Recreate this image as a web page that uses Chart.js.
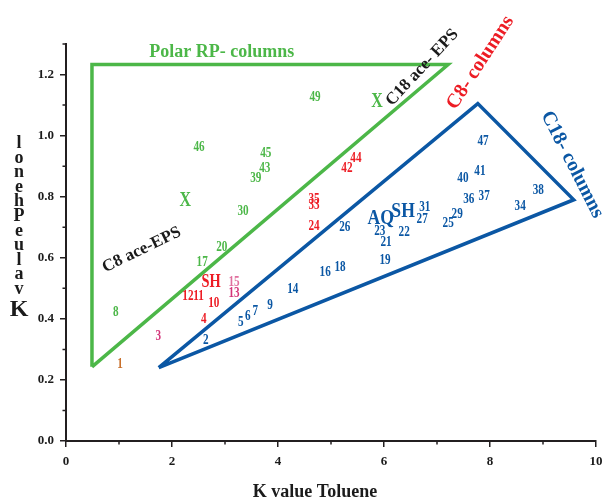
<!DOCTYPE html>
<html>
<head>
<meta charset="utf-8">
<script src="https://cdn.jsdelivr.net/npm/chart.js@4.4.1/dist/chart.umd.min.js"></script>
<style>
  html,body{margin:0;padding:0;background:#fff}
  #wrap{width:602px;height:503px}
</style>
</head>
<body>
<div id="wrap"><canvas id="chart"></canvas></div>
<script>
// retention factors: K value Toluene (x) vs K value Phenol (y), labelled by column number

// polar-embedded RP columns
const polarIds = ['8','17','20','30','39','43','45','46','49'];
const polarK   = [0.94, 2.57, 2.94, 3.34, 3.58, 3.75, 3.77, 2.51, 4.70];
const polarP   = [0.420,0.584,0.633,0.751,0.859,0.892,0.941,0.961,1.125];

// C8 columns
const c8Ids = ['4','10','12','11','24','33','35','42','44'];
const c8K   = [2.60, 2.79, 2.30, 2.50, 4.68, 4.68, 4.68, 5.30, 5.47];
const c8P   = [0.397,0.449,0.472,0.472,0.702,0.770,0.790,0.892,0.925];

const c8bIds = ['3','13'];
const c8bK   = [1.74, 3.17];
const c8bP   = [0.341,0.482];

const c8cIds = ['15'];
const c8cK   = [3.17];
const c8cP   = [0.521];

const otherIds = ['1'];
const otherK   = [1.02];
const otherP   = [0.252];

// C18 columns
const c18Ids = ['2','5','6','7','9','14','16','18','19','21','22','23','25','26','27','29','31','34','36','37','38','40','41','47'];
const c18K   = [2.64,3.30,3.43,3.57,3.85,4.28,4.89,5.17,6.02,6.04,6.38,5.92,7.21,5.26,6.72,7.38,6.77,8.57,7.60,7.89,8.91,7.49,7.81,7.87];
const c18P   = [0.328,0.390,0.407,0.423,0.443,0.498,0.551,0.570,0.593,0.649,0.682,0.685,0.711,0.698,0.725,0.741,0.764,0.767,0.790,0.800,0.820,0.859,0.882,0.980];

// phase-type markers
const polarMarkIds = ['X','X'];
const polarMarkK   = [2.25, 5.87];
const polarMarkP   = [0.787,1.111];
const c8MarkIds = ['SH'];
const c8MarkK   = [2.74];
const c8MarkP   = [0.518];
const c18MarkIds = ['AQ','SH'];
const c18MarkK   = [5.94, 6.36];
const c18MarkP   = [0.728,0.751];

// region outlines
const polarTriK = [0.49, 0.49, 7.21, 0.49];
const polarTriP = [0.243,1.233,1.233,0.243];
const c18TriK   = [1.75, 7.77, 9.58, 1.75];
const c18TriP   = [0.240,1.105,0.790,0.240];

// group captions
const noteText = ['Polar RP- columns','C8 ace-EPS','C18 ace- EPS','C8- columns','C18- columns'];
const noteK    = [2.94, 1.43, 6.72, 7.82, 9.55];
const noteP    = [1.272,0.626,1.223,1.239,0.905];

const xTicks = [0,2,4,6,8,10];
const yTicks = [0,0.2,0.4,0.6,0.8,1.0,1.2];
const yTitle = 'K value Phenol';
const xTitle = 'K value Toluene';

const COL = {green:'#4cb748', red:'#ed1c24', pink:'#d4357a', pinkL:'#e0709e',
             orange:'#c8702c', blue:'#0b57a4', ink:'#1b1b1b'};
const SERIF = '"Liberation Serif","Times New Roman",serif';

const pts = (xs, ys) => xs.map((x,i)=>({x, y:ys[i]}));
const labelSet = (ids, xs, ys, color, size) => ({
  data: pts(xs, ys), ids, textColor: color, textSize: size || 14,
  pointRadius: 0, pointHoverRadius: 0, showLine: false
});
const outline = (xs, ys, color) => ({
  data: pts(xs, ys), showLine: true, borderColor: color, borderWidth: 3.5,
  pointRadius: 0, fill: false, tension: 0, borderJoinStyle: 'miter'
});

// draws the column numbers / markers at each point position
const idLabels = {
  id: 'idLabels',
  afterDatasetsDraw(chart){
    const ctx = chart.ctx;
    chart.data.datasets.forEach((ds, i) => {
      if (!ds.ids) return;
      const meta = chart.getDatasetMeta(i);
      ctx.save();
      ctx.fillStyle = ds.textColor;
      ctx.font = 'bold ' + ds.textSize + 'px ' + SERIF;
      ctx.textAlign = 'center';
      ctx.textBaseline = 'middle';
      meta.data.forEach((el, j) => {
        ctx.save();
        ctx.translate(el.x, el.y);
        ctx.scale(0.8, 1);
        ctx.fillText(ds.ids[j], 0, 0);
        ctx.restore();
      });
      ctx.restore();
    });
  }
};

// rotated group captions
const notes = {
  id: 'notes',
  afterDatasetsDraw(chart){
    const {ctx, scales:{x, y}} = chart;
    const style = [
      {c:COL.green, s:18, a:0},
      {c:COL.ink,   s:17, a:-26},
      {c:COL.ink,   s:17, a:-47},
      {c:COL.red,   s:20, a:-57},
      {c:COL.blue,  s:20, a:63}
    ];
    noteText.forEach((t, i) => {
      const st = style[i];
      ctx.save();
      ctx.translate(x.getPixelForValue(noteK[i]), y.getPixelForValue(noteP[i]));
      ctx.rotate(st.a * Math.PI / 180);
      ctx.fillStyle = st.c;
      ctx.font = 'bold ' + st.s + 'px ' + SERIF;
      ctx.textAlign = 'center';
      ctx.textBaseline = 'middle';
      ctx.fillText(t, 0, 0);
      ctx.restore();
    });
  }
};

// minor ticks, axis titles
const axisExtras = {
  id: 'axisExtras',
  afterDraw(chart){
    const {ctx, chartArea:a, scales:{x, y}} = chart;
    ctx.save();
    ctx.strokeStyle = '#231f20';
    ctx.lineWidth = 1.5;
    ctx.beginPath();
    [1,3,5,7,9].forEach(v => {
      const px = x.getPixelForValue(v);
      ctx.moveTo(px, a.bottom); ctx.lineTo(px, a.bottom + 3.5);
    });
    [0.1,0.3,0.5,0.7,0.9,1.1,1.3].forEach(v => {
      const py = y.getPixelForValue(v);
      ctx.moveTo(a.left, py); ctx.lineTo(a.left - 3.5, py);
    });
    ctx.stroke();

    ctx.fillStyle = COL.ink;
    ctx.textAlign = 'center';

    // x title sits a bit left of the axis centre
    ctx.textBaseline = 'middle';
    ctx.font = 'bold 18px ' + SERIF;
    ctx.fillText(xTitle, 315, 492);

    // y title: letters stacked upright, read bottom to top
    const letters = yTitle.replace(/ /g, '').split('');
    ctx.textBaseline = 'alphabetic';
    let base = 316;
    letters.forEach((ch, i) => {
      ctx.font = 'bold ' + (i === 0 ? 24 : 18) + 'px ' + SERIF;
      ctx.fillText(ch, 19, base);
      base -= (i === 0 ? 22 : 14.6);
    });
    ctx.restore();
  }
};

const tickFont = {family: SERIF, size: 13, weight: 'bold'};

new Chart(document.getElementById('chart'), {
  type: 'scatter',
  data: {
    datasets: [
      outline(polarTriK, polarTriP, COL.green),
      outline(c18TriK, c18TriP, COL.blue),
      labelSet(polarIds, polarK, polarP, COL.green),
      labelSet(c8Ids, c8K, c8P, COL.red),
      labelSet(c8bIds, c8bK, c8bP, COL.pink),
      labelSet(c8cIds, c8cK, c8cP, COL.pinkL),
      labelSet(otherIds, otherK, otherP, COL.orange),
      labelSet(c18Ids, c18K, c18P, COL.blue),
      labelSet(polarMarkIds, polarMarkK, polarMarkP, COL.green, 20),
      labelSet(c8MarkIds, c8MarkK, c8MarkP, COL.red, 18),
      labelSet(c18MarkIds, c18MarkK, c18MarkP, COL.blue, 22)
    ]
  },
  options: {
    responsive: true,
    maintainAspectRatio: false,
    animation: false,
    layout: {padding: {left: 0, top: 44, right: 6, bottom: 0}},
    plugins: {legend: {display: false}, tooltip: {enabled: false}},
    scales: {
      x: {
        type: 'linear', min: 0, max: 10,
        afterFit: s => { s.height = 62; s.paddingLeft = 0; s.paddingRight = 0; },
        afterBuildTicks: s => { s.ticks = xTicks.map(v => ({value: v})); },
        border: {display: true, color: '#231f20', width: 2},
        grid: {drawOnChartArea: false, tickLength: 6, color: '#231f20', lineWidth: 1.5},
        ticks: {font: tickFont, color: COL.ink, padding: 7, maxRotation: 0}
      },
      y: {
        type: 'linear', min: 0, max: 1.3,
        afterFit: s => { s.width = 66; s.paddingTop = 0; s.paddingBottom = 0; },
        afterBuildTicks: s => { s.ticks = yTicks.map(v => ({value: v})); },
        border: {display: true, color: '#231f20', width: 2},
        grid: {drawOnChartArea: false, tickLength: 6, color: '#231f20', lineWidth: 1.5},
        ticks: {font: tickFont, color: COL.ink, padding: 6, callback: v => v.toFixed(1)}
      }
    }
  },
  plugins: [idLabels, notes, axisExtras]
});
</script>
</body>
</html>
